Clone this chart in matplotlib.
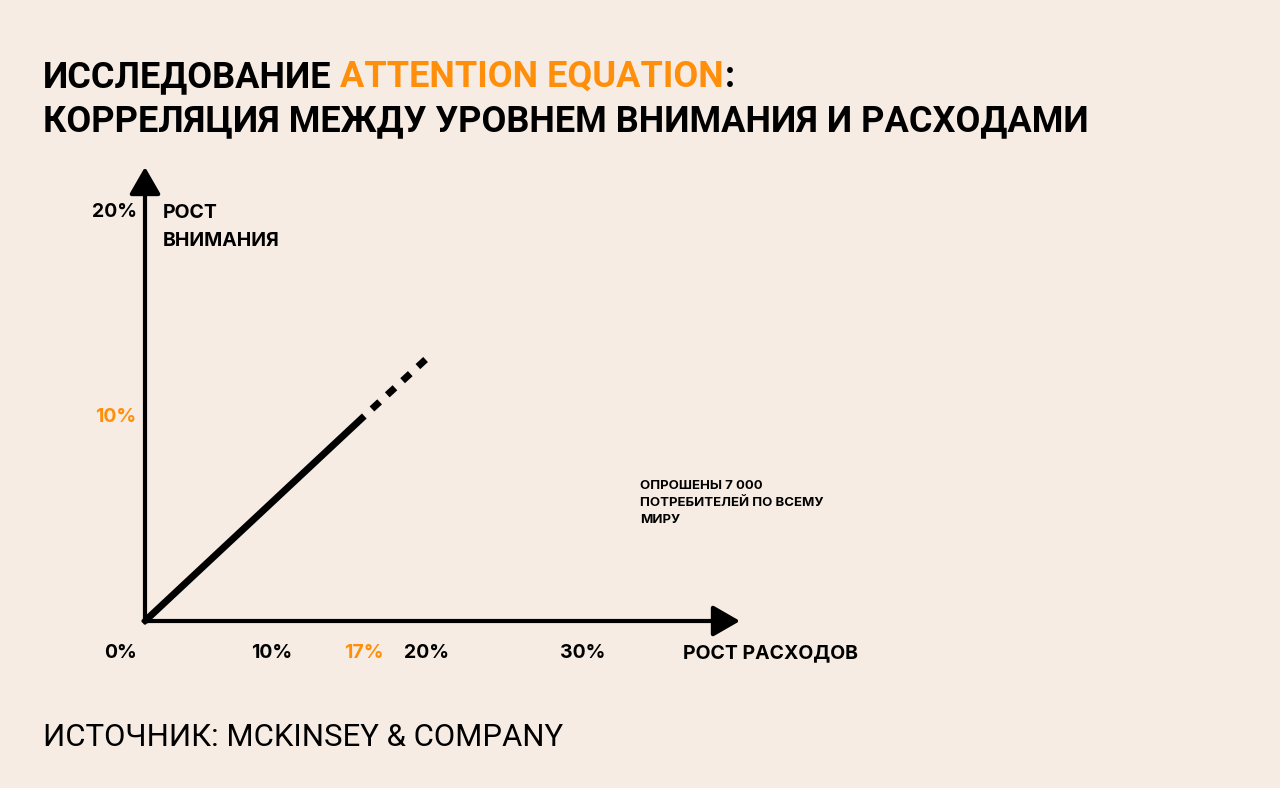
import matplotlib
matplotlib.use("Agg")
import matplotlib.pyplot as plt

# data
trend_x = [0, 17]          # рост расходов, %
trend_y = [0, 10]          # рост внимания, %
forecast_x = [17, 22]
forecast_y = [10, 12.9]

x_tick_labels = ["0%", "10%", "17%", "20%", "30%"]
x_tick_pos = [-1.9, 9.8, 17.0, 21.8, 33.9]   # where the labels sit on the drawing
y_tick_labels = ["20%", "10%"]
y_tick_pos = [20.1, 10.1]

BG = "#F6ECE3"
ORANGE = "#FF8F0A"
BLACK = "#000000"
W, H = 1280, 788

plt.rcParams["font.family"] = ["Inter", "DejaVu Sans"]

fig = plt.figure(figsize=(W / 100, H / 100), dpi=100, facecolor=BG)

# axes placed so that origin sits at pixel (145, 621)
ox, oy = 145, 621
px_x, px_y = 12.9, 20.5
ax_right, ax_top = 780, 150
ax = fig.add_axes([ox / W, 1 - oy / H, (ax_right - ox) / W, (oy - ax_top) / H])
ax.set_xlim(0, (ax_right - ox) / px_x)
ax.set_ylim(0, (oy - ax_top) / px_y)
ax.set_facecolor(BG)
ax.axis("off")

x_tip = (740 - ox) / px_x
y_tip = (oy - 167) / px_y
arrow = dict(arrowstyle="-|>,head_length=1.65,head_width=0.95", lw=3, color=BLACK,
             mutation_scale=10, shrinkA=0, shrinkB=0)
ax.annotate("", xy=(x_tip, 0), xytext=(-0.12, 0), arrowprops=arrow, annotation_clip=False)
ax.annotate("", xy=(0, y_tip), xytext=(0, -0.08), arrowprops=arrow, annotation_clip=False)

ax.plot(trend_x, trend_y, color=BLACK, lw=5, solid_capstyle="butt", clip_on=False)
ax.plot(forecast_x, forecast_y, color=BLACK, lw=5, linestyle=(1.5, (1.5, 1.5)),
        dash_capstyle="butt", clip_on=False)

# tick labels
for pos, lab in zip(x_tick_pos, x_tick_labels):
    c = ORANGE if lab == "17%" else BLACK
    ax.text(pos, -1.8, lab, ha="center", va="baseline", fontsize=14, fontweight="bold",
            color=c, clip_on=False)
for pos, lab in zip(y_tick_pos, y_tick_labels):
    c = ORANGE if lab == "10%" else BLACK
    ax.text(-0.65, pos - 0.4, lab, ha="right", va="baseline", fontsize=14, fontweight="bold",
            color=c, clip_on=False)

ax.text((683 - ox) / px_x, -1.8, "РОСТ РАСХОДОВ", ha="left", va="baseline",
        fontsize=14, fontweight="bold", clip_on=False)
ax.text((163 - ox) / px_x, (oy - 218) / px_y, "РОСТ", ha="left", va="baseline",
        fontsize=14, fontweight="bold", clip_on=False)
ax.text((163 - ox) / px_x, (oy - 246) / px_y, "ВНИМАНИЯ", ha="left", va="baseline",
        fontsize=14, fontweight="bold", clip_on=False)


def ftext(x, y, s, **kw):
    return fig.text(x / W, 1 - y / H, s, **kw)


title_font = ["Roboto", "DejaVu Sans"]
# title with orange part
t1 = ftext(43, 87, "ИССЛЕДОВАНИЕ", fontsize=26, fontweight="bold", va="baseline",
           family=title_font)
fig.canvas.draw()
r = fig.canvas.get_renderer()
bb = t1.get_window_extent(r)
t2 = ftext(bb.x1 + 9, 87, "ATTENTION EQUATION", fontsize=26, fontweight="bold",
           va="baseline", color=ORANGE, family=title_font)
bb = t2.get_window_extent(r)
ftext(bb.x1 + 1, 87, ":", fontsize=26, fontweight="bold", va="baseline", family=title_font)
ftext(43, 131, "КОРРЕЛЯЦИЯ МЕЖДУ УРОВНЕМ ВНИМАНИЯ И РАСХОДАМИ", fontsize=26,
      fontweight="bold", va="baseline", family=title_font)

note_lines = ["ОПРОШЕНЫ 7 000", "ПОТРЕБИТЕЛЕЙ ПО ВСЕМУ", "МИРУ"]
for i, line in enumerate(note_lines):
    ftext(640, 489 + 17 * i, line, fontsize=9.5, fontweight="bold", va="baseline")

ftext(43, 746, "ИСТОЧНИК: MCKINSEY & COMPANY", fontsize=22.4, va="baseline",
      family=title_font)

fig.savefig("out.png", dpi=100, facecolor=BG)
